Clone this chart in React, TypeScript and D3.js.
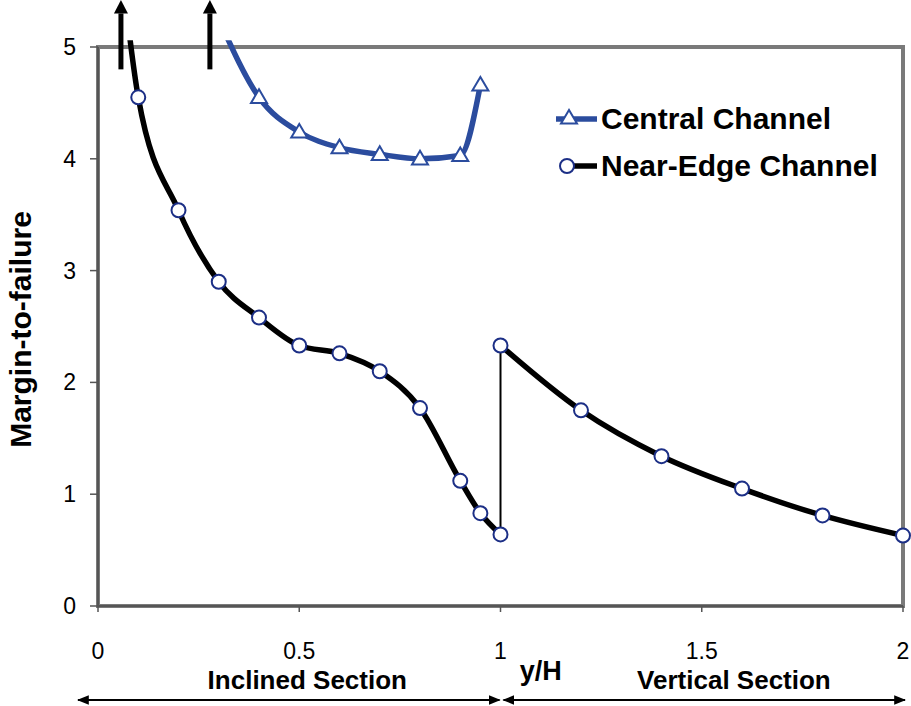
import * as React from "react";
import * as d3 from "d3";

// y/H positions and margin-to-failure values
const centralX = [0.3, 0.4, 0.5, 0.6, 0.7, 0.8, 0.9, 0.95];
const centralY = [5.25, 4.55, 4.24, 4.1, 4.04, 4.0, 4.03, 4.66];
const centralMarked = [false, true, true, true, true, true, true, true];

const inclinedX = [0.05, 0.1, 0.2, 0.3, 0.4, 0.5, 0.6, 0.7, 0.8, 0.9, 0.95, 1.0];
const inclinedY = [6.0, 4.55, 3.54, 2.9, 2.58, 2.33, 2.26, 2.1, 1.77, 1.12, 0.83, 0.64];
const inclinedMarked = [false, true, true, true, true, true, true, true, true, true, true, true];

const verticalX = [1.0, 1.2, 1.4, 1.6, 1.8, 2.0];
const verticalY = [2.33, 1.75, 1.34, 1.05, 0.81, 0.63];

const xTicks = [0, 0.5, 1, 1.5, 2];
const xTickLabels = ["0", "0.5", "1", "1.5", "2"];
const yTicks = [0, 1, 2, 3, 4, 5];

const offScaleX = [0.057, 0.278];
const sections = [
  { from: 0, to: 1, label: "Inclined Section", at: 0.52 },
  { from: 1, to: 2, label: "Vertical Section", at: 1.58 },
];

const W = 911;
const H = 706;
const FONT = "'Liberation Sans', Arial, sans-serif";
const BLUE = "#2b4c9e";
const NAVY = "#1c2f86";

const x = d3.scaleLinear().domain([0, 2]).range([98, 903]);
const y = d3.scaleLinear().domain([0, 5]).range([606, 47]);

const curve = d3.line<[number, number]>()
  .x(d => x(d[0]))
  .y(d => y(d[1]))
  .curve(d3.curveMonotoneX);

const zip = (a: number[], b: number[]) => a.map((v, i) => [v, b[i]] as [number, number]);

function Triangle({ cx, cy, s = 8 }: { cx: number; cy: number; s?: number }) {
  const pts = [[cx, cy - s], [cx - s, cy + s * 0.7], [cx + s, cy + s * 0.7]];
  return <polygon points={pts.map(p => p.join(",")).join(" ")} fill="#fff" stroke={BLUE} strokeWidth={2} />;
}

export default function App() {
  const central = zip(centralX, centralY);
  const inclined = zip(inclinedX, inclinedY);
  const vertical = zip(verticalX, verticalY);

  return (
    <svg width={W} height={H} style={{ position: "absolute", left: 0, top: 0, background: "#fff" }}
      fontFamily={FONT}>
      <defs>
        <clipPath id="plot">
          <rect x={x(0)} y={y(5.06)} width={x(2) - x(0)} height={y(0) - y(5.06)} />
        </clipPath>
        <marker id="tip" viewBox="0 0 10 10" refX="9" refY="5" markerWidth="6" markerHeight="6"
          orient="auto-start-reverse">
          <path d="M0,1 L10,5 L0,9 z" fill="#000" />
        </marker>
      </defs>

      {/* frame */}
      <rect x={x(0)} y={y(5)} width={x(2) - x(0)} height={y(0) - y(5)} fill="none"
        stroke="#7a7a7a" strokeWidth={4} />
      <line x1={x(0)} x2={x(0)} y1={y(5)} y2={y(0)} stroke="#555" strokeWidth={2} />
      <line x1={x(0)} x2={x(2)} y1={y(0)} y2={y(0)} stroke="#555" strokeWidth={2} />

      {/* y axis */}
      {yTicks.map(t => (
        <g key={t}>
          <line x1={x(0) - 8} x2={x(0)} y1={y(t)} y2={y(t)} stroke="#555" strokeWidth={1.5} />
          <text x={x(0) - 22} y={y(t)} dy="0.35em" textAnchor="end" fontSize={23}>{t}</text>
        </g>
      ))}
      <text transform={`translate(31,${(y(0) + y(5)) / 2 + 3}) rotate(-90)`} textAnchor="middle"
        fontSize={30} fontWeight="bold">Margin-to-failure</text>

      {/* x axis */}
      {xTicks.map((t, i) => (
        <g key={t}>
          <line x1={x(t)} x2={x(t)} y1={y(0)} y2={y(0) + 6} stroke="#555" strokeWidth={1.5} />
          <text x={x(t)} y={y(0) + 53} textAnchor="middle" fontSize={23}>{xTickLabels[i]}</text>
        </g>
      ))}
      <text x={x(1.1)} y={680} textAnchor="middle" fontSize={27} fontWeight="bold">y/H</text>
      {sections.map(s => (
        <g key={s.label}>
          <text x={x(s.at)} y={689} textAnchor="middle" fontSize={26} fontWeight="bold">{s.label}</text>
          <line x1={x(s.from) + (s.from === 0 ? -20 : 3)} x2={x(s.to) - (s.to === 1 ? 1 : -2)} y1={700} y2={700}
            stroke="#000" strokeWidth={2} markerStart="url(#tip)" markerEnd="url(#tip)" />
        </g>
      ))}

      {/* off-scale arrows */}
      {offScaleX.map(v => (
        <g key={v}>
          <line x1={x(v)} x2={x(v)} y1={y(4.8)} y2={y(5.3)} stroke="#000" strokeWidth={5} />
          <path d={`M${x(v) - 7},${y(5.3)} L${x(v) + 7},${y(5.3)} L${x(v)},${y(5.42)} z`} fill="#000" />
        </g>
      ))}

      {/* series */}
      <g clipPath="url(#plot)">
        <path d={curve(central) ?? ""} fill="none" stroke={BLUE} strokeWidth={5.5} />
        <path d={curve(inclined) ?? ""} fill="none" stroke="#000" strokeWidth={5.5} />
        <path d={curve(vertical) ?? ""} fill="none" stroke="#000" strokeWidth={5.5} />
        <line x1={x(1)} x2={x(1)} y1={y(inclinedY[inclinedY.length - 1])} y2={y(verticalY[0])}
          stroke="#000" strokeWidth={2} />
      </g>
      {central.map((d, i) => centralMarked[i] && <Triangle key={i} cx={x(d[0])} cy={y(d[1])} />)}
      {[...inclined.filter((_, i) => inclinedMarked[i]), ...vertical].map((d, i) => (
        <circle key={i} cx={x(d[0])} cy={y(d[1])} r={7} fill="#fff" stroke={NAVY} strokeWidth={2} />
      ))}

      {/* legend */}
      <g>
        <line x1={556} x2={597} y1={119} y2={119} stroke={BLUE} strokeWidth={5.5} />
        <Triangle cx={569} cy={118} s={8} />
        <text x={601} y={129} fontSize={30} fontWeight="bold">Central Channel</text>
        <line x1={560} x2={597} y1={166} y2={166} stroke="#000" strokeWidth={5.5} />
        <circle cx={567} cy={166} r={7} fill="#fff" stroke={NAVY} strokeWidth={2} />
        <text x={601} y={176} fontSize={30} fontWeight="bold">Near-Edge Channel</text>
      </g>
    </svg>
  );
}
